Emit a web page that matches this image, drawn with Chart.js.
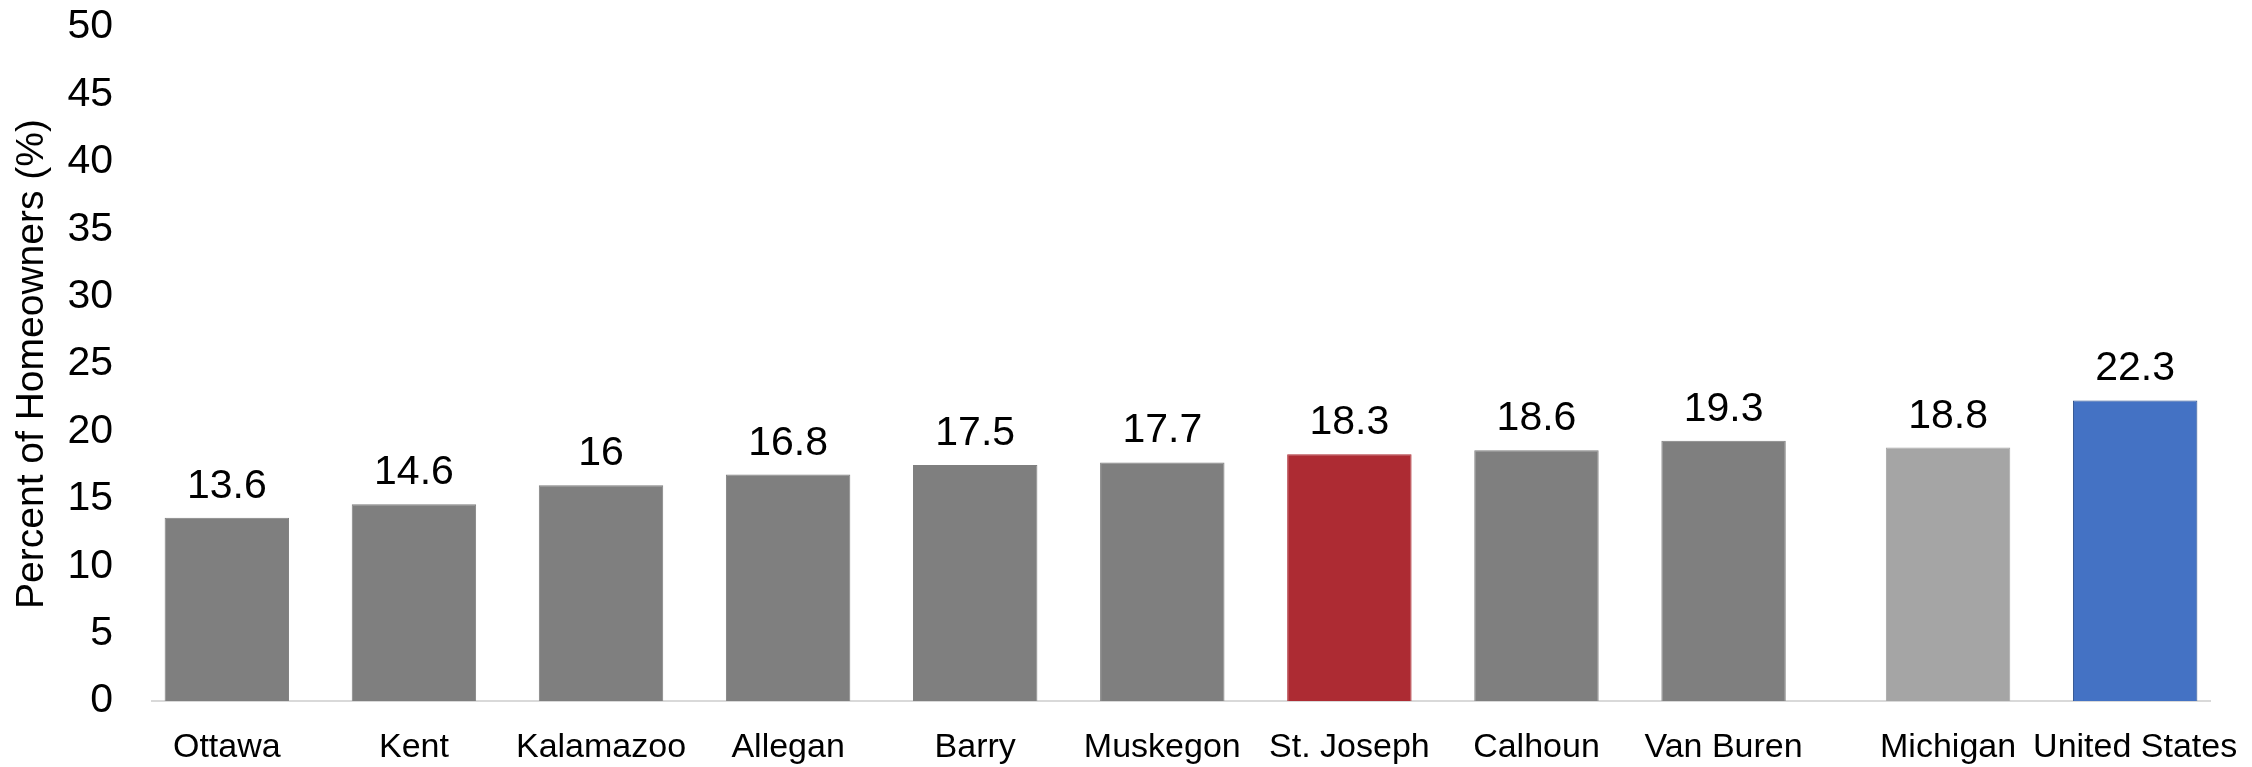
<!DOCTYPE html>
<html>
<head>
<meta charset="utf-8">
<script src="https://cdn.jsdelivr.net/npm/chart.js@4/dist/chart.umd.min.js"></script>
<style>
  html, body { margin: 0; padding: 0; background: #fff; }
  #wrap { width: 2252px; height: 767px; position: relative; }
</style>
</head>
<body>
<div id="wrap"><canvas id="chart"></canvas></div>
<script>
/* global Chart */

// data
const counties = ['Ottawa', 'Kent', 'Kalamazoo', 'Allegan', 'Barry', 'Muskegon', 'St. Joseph', 'Calhoun', 'Van Buren', 'Michigan', 'United States'];
const homeowners = [13.6, 14.6, 16, 16.8, 17.5, 17.7, 18.3, 18.6, 19.3, 18.8, 22.3];
// slot of each bar on the x axis (a little gap before Michigan)
const slots = [0, 1, 2, 3, 4, 5, 6, 7, 8, 9.2, 10.2];
const yTicks = [0, 5, 10, 15, 20, 25, 30, 35, 40, 45, 50];

const barColors = ['#7F7F7F', '#7F7F7F', '#7F7F7F', '#7F7F7F', '#7F7F7F', '#7F7F7F', '#AD2B33', '#7F7F7F', '#7F7F7F', '#A5A5A5', '#4472C4'];
const edgeColors = ['#7F7F7F', '#7F7F7F', '#7F7F7F', '#7F7F7F', '#7F7F7F', '#7F7F7F', '#AD2B33', '#7F7F7F', '#7F7F7F', '#A5A5A5', '#2F528F'];

Chart.defaults.font.family = "'Liberation Sans', Arial, sans-serif";
Chart.defaults.color = '#000';

// value labels above the bars
const valueLabels = {
  id: 'valueLabels',
  afterDatasetsDraw(chart) {
    const ctx = chart.ctx;
    const meta = chart.getDatasetMeta(0);
    ctx.save();
    ctx.font = "41px 'Liberation Sans', Arial, sans-serif";
    ctx.fillStyle = '#000';
    ctx.textAlign = 'center';
    ctx.textBaseline = 'alphabetic';
    meta.data.forEach((bar, i) => {
      ctx.fillText(String(homeowners[i]), bar.x, bar.y - 20);
    });
    ctx.restore();
  }
};

const ctx = document.getElementById('chart').getContext('2d');
new Chart(ctx, {
  type: 'bar',
  data: {
    datasets: [{
      data: slots.map((s, i) => ({ x: s, y: homeowners[i] })),
      backgroundColor: barColors,
      borderColor: edgeColors,
      borderWidth: 1,
      categoryPercentage: 1,
      barPercentage: 0.665
    }]
  },
  options: {
    responsive: true,
    maintainAspectRatio: false,
    animation: false,
    layout: { padding: { top: 27, right: 42, bottom: 0, left: 0 } },
    plugins: {
      legend: { display: false },
      tooltip: { enabled: false }
    },
    scales: {
      x: {
        type: 'linear',
        offset: false,
        min: -0.4,
        max: 10.6,
        grid: { display: false, drawTicks: false },
        border: { display: true, color: '#D9D9D9', width: 2 },
        afterBuildTicks: scale => { scale.ticks = slots.map(v => ({ value: v })); },
        afterFit: scale => {
          scale.height = 66;
          scale.paddingLeft = 0;
          scale.paddingRight = 0;
        },
        ticks: {
          autoSkip: false,
          maxRotation: 0,
          padding: 26,
          font: { size: 34 },
          color: '#000',
          callback: value => counties[slots.indexOf(value)]
        }
      },
      y: {
        min: 0,
        max: 50,
        grid: { display: false, drawTicks: false },
        border: { display: false },
        afterBuildTicks: scale => { scale.ticks = yTicks.map(v => ({ value: v })); },
        afterFit: scale => {
          scale.width = 152;
          scale.paddingTop = 25;
          scale.paddingBottom = 25;
        },
        ticks: {
          padding: 39,
          font: { size: 41 },
          color: '#000'
        },
        title: {
          display: true,
          text: 'Percent of Homeowners (%)',
          font: { size: 39 },
          color: '#000',
          padding: { top: 9, bottom: 0 }
        }
      }
    }
  },
  plugins: [valueLabels]
});
</script>
</body>
</html>
